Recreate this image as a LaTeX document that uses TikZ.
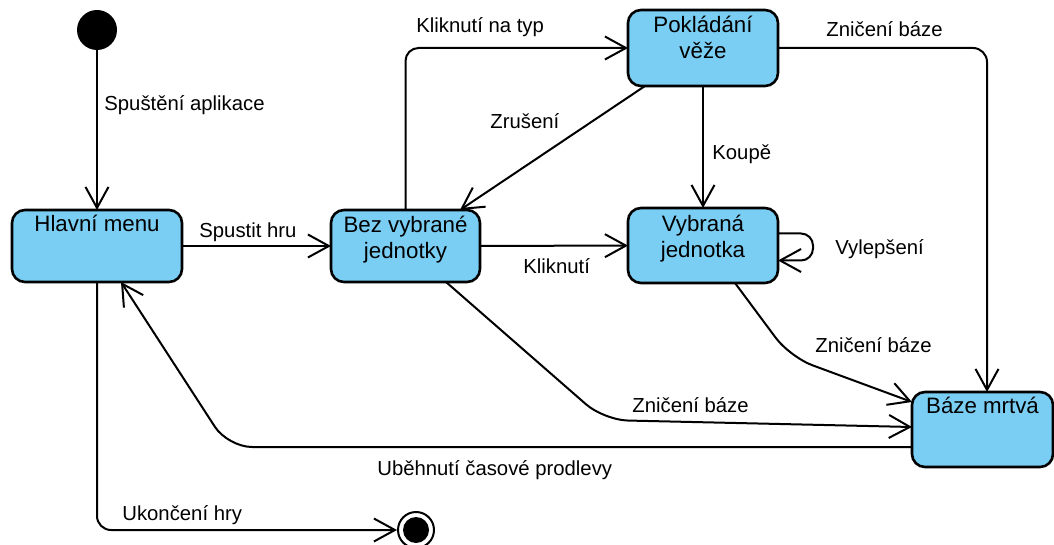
\documentclass[tikz,border=0pt]{standalone}
\usepackage{fontspec}
\setmainfont{Liberation Sans}
\usetikzlibrary{arrows.meta,calc}
\definecolor{stfill}{RGB}{122,206,244}
\begin{document}
\begin{tikzpicture}[x=0.5pt,y=-0.5pt,
  stbox/.style={draw, line width=1.3pt, fill=stfill, rounded corners=6.5pt, inner sep=0pt, outer sep=0pt},
  sttext/.style={font=\fontsize{11.15}{13}\selectfont, align=center, anchor=base, inner sep=0pt},
  lbl/.style={font=\fontsize{10.15}{12}\selectfont, anchor=base west, inner sep=0pt},
  conn/.style={line width=1pt, -{Straight Barb[length=10.5pt,width=11.5pt]}}]
\useasboundingbox (0,0) rectangle (1054,545);
% states
\node[circle, fill=black, minimum size=20pt, inner sep=0pt] (start) at (97,30) {};
\node[stbox, minimum width=85pt, minimum height=36pt] (hm) at (97,246) {};
\node[stbox, minimum width=74.5pt, minimum height=36pt] (bez) at (405.5,246) {};
\node[stbox, minimum width=75pt, minimum height=38pt] (pok) at (703,48) {};
\node[stbox, minimum width=75pt, minimum height=37.5pt] (vyb) at (703,245.5) {};
\node[stbox, minimum width=70.5pt, minimum height=37.5pt] (baze) at (982.5,429.5) {};
\node[circle, draw, line width=1pt, minimum size=18pt, inner sep=0pt] (end) at (416,530) {};
\fill[black] (end.center) circle (6.5pt);
% state texts (base = baseline of the last line)
\node[sttext] (hmt) at (97,232) {Hlavní menu};
\node[sttext] (bezt) at (405.5,258) {Bez vybrané\\jednotky};
\node[sttext] (pokt) at (703,59) {Pokládání\\věže};
\node[sttext] (vybt) at (703,257) {Vybraná\\jednotka};
\node[sttext] (bazet) at (982.5,413) {Báze mrtvá};
% waypoints
\coordinate (w1) at (790,357);
\coordinate (w2) at (604,420);
\coordinate (w3) at (228,447);
% connectors
\draw[conn] (start) -- (hm.north);
\draw[conn] (hm) -- (bez);
\draw[conn, rounded corners=6.5pt] (bez.north) |- (pok.west);
\draw[conn] ($(pok.south west)+(17,0)$) -- ($(bez.north east)+(-20,0)$);
\draw[conn] (bez) -- (vyb);
\draw[conn] (pok) -- (vyb);
\draw[conn, rounded corners=6pt] ($(vyb.east)+(0,-12)$) -- ++(35,0) -- ++(0,27) -- ($(vyb.east)+(0,15)$);
\draw[conn, rounded corners=7pt] (pok.east) -| ($(baze.north)+(4.5,0)$);
\draw[conn, rounded corners=12pt] ($(vyb.south)+(32,0)$) -- (w1) -- ($(baze.west)+(0,-27.5)$);
\draw[conn, rounded corners=12pt] ($(bez.south east)+(-34,0)$) -- (w2) -- ($(baze.west)+(0,-2.5)$);
\draw[conn, rounded corners=12pt] ($(baze.west)+(0,17.5)$) -- (w3) -- ($(hm.south)+(24,0)$);
\draw[conn, rounded corners=7pt] (hm.south) |- (end.west);
% labels
\node[lbl] (l1) at (104,111) {Spuštění aplikace};
\node[lbl] (l2) at (199,238) {Spustit hru};
\node[lbl] (l3) at (416,33) {Kliknutí na typ};
\node[lbl] (l4) at (490,129) {Zrušení};
\node[lbl] (l5) at (523,273) {Kliknutí};
\node[lbl] (l6) at (712,160) {Koupě};
\node[lbl] (l7) at (835,255) {Vylepšení};
\node[lbl] (l8) at (826,37) {Zničení báze};
\node[lbl] (l9) at (815,352) {Zničení báze};
\node[lbl] (l10) at (632,412) {Zničení báze};
\node[lbl] (l11) at (377,475) {Uběhnutí časové prodlevy};
\node[lbl] (l12) at (122,520) {Ukončení hry};
\end{tikzpicture}
\end{document}
